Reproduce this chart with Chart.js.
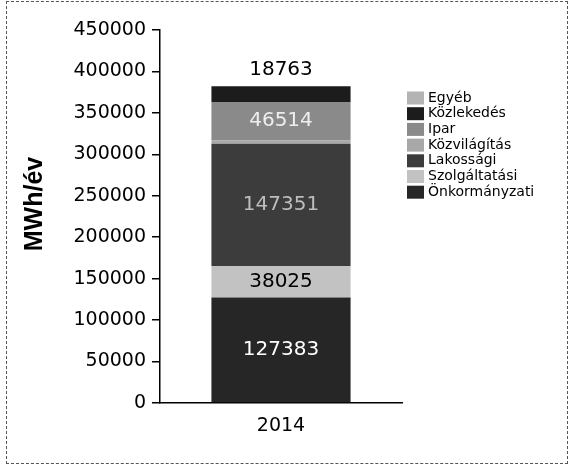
<!DOCTYPE html>
<html>
<head>
<meta charset="utf-8">
<script src="https://cdn.jsdelivr.net/npm/chart.js@4/dist/chart.umd.min.js"></script>
<style>
html,body{margin:0;padding:0;background:#fff;}
#wrap{position:relative;width:571px;height:467px;overflow:hidden;}
#c{position:absolute;left:0;top:0;}
#frame{position:absolute;left:6px;top:1px;width:560px;height:461px;border:1px dashed #555;pointer-events:none;}
</style>
</head>
<body>
<div id="wrap"><canvas id="c" width="571" height="467"></canvas><div id="frame"></div></div>
<script>
// ---- data ----
const categories = ['2014'];
const seriesNames = ['Önkormányzati', 'Szolgáltatási', 'Lakossági', 'Közvilágítás', 'Ipar', 'Közlekedés', 'Egyéb'];
const onkormanyzati = [127383];
const szolgaltatasi = [38025];
const lakossagi = [147351];
const kozvilagitas = [4000];
const ipar = [46514];
const kozlekedes = [18763];
const egyeb = [0];
const shownLabels = [true, true, true, false, true, true, false];
const yMin = 0, yMax = 450000, yStep = 50000;
const yTitle = 'MWh/év';

// ---- styles ----
const seriesValues = [onkormanyzati, szolgaltatasi, lakossagi, kozvilagitas, ipar, kozlekedes, egyeb];
const fillColors = ['#262626', '#c2c2c2', '#3c3c3c', '#a8a8a8', '#8a8a8a', '#1c1c1c', '#b4b4b4'];
const labelColors = ['#ffffff', '#000000', '#bdbdbd', '#000000', '#eeeeee', '#000000', '#000000'];

const datasets = seriesNames.map((n, i) => ({
  label: n,
  data: seriesValues[i],
  backgroundColor: fillColors[i],
  borderWidth: 0,
  barPercentage: 0.575,
  categoryPercentage: 1.0
}));

const valueLabels = {
  id: 'valueLabels',
  afterDatasetsDraw(chart) {
    const ctx = chart.ctx;
    ctx.save();
    ctx.font = '20px "DejaVu Sans"';
    ctx.textAlign = 'center';
    ctx.textBaseline = 'middle';
    const lastIdx = 5; // Közlekedés label sits above the bar
    let topY = Infinity;
    chart.data.datasets.forEach((ds, di) => {
      const meta = chart.getDatasetMeta(di);
      meta.data.forEach(el => { if (ds.data[0] > 0) topY = Math.min(topY, el.y); });
    });
    chart.data.datasets.forEach((ds, di) => {
      if (!shownLabels[di]) return;
      const meta = chart.getDatasetMeta(di);
      meta.data.forEach((el, j) => {
        const v = ds.data[j];
        let y = (el.y + el.base) / 2;
        if (di === lastIdx) y = topY - 17;
        ctx.fillStyle = labelColors[di];
        ctx.fillText(String(v), el.x, y);
      });
    });
    ctx.restore();
  }
};

const sideLegend = {
  id: 'sideLegend',
  afterDraw(chart) {
    const ctx = chart.ctx;
    ctx.save();
    ctx.font = '14px "DejaVu Sans"';
    ctx.textBaseline = 'middle';
    ctx.textAlign = 'left';
    const x0 = 407, y0 = 98, step = 15.7;
    for (let k = 0; k < seriesNames.length; k++) {
      const i = seriesNames.length - 1 - k;
      const yc = y0 + k * step;
      ctx.fillStyle = fillColors[i];
      ctx.fillRect(x0, yc - 6.5, 17, 13);
      ctx.fillStyle = '#000';
      ctx.fillText(seriesNames[i], x0 + 21, yc);
    }
    ctx.restore();
  }
};

const yTitlePlugin = {
  id: 'yTitlePlugin',
  afterDraw(chart) {
    const ctx = chart.ctx;
    ctx.save();
    ctx.translate(35, 204);
    ctx.rotate(-Math.PI / 2);
    ctx.font = 'bold 25px "Liberation Sans"';
    ctx.fillStyle = '#000';
    ctx.textAlign = 'center';
    ctx.textBaseline = 'middle';
    ctx.fillText(yTitle, 0, 0);
    ctx.restore();
  }
};

new Chart(document.getElementById('c'), {
  type: 'bar',
  data: { labels: categories, datasets },
  options: {
    responsive: false,
    animation: false,
    layout: { padding: { left: 0, right: 169, top: 30, bottom: 0 } },
    plugins: { legend: { display: false }, tooltip: { enabled: false } },
    scales: {
      x: {
        stacked: true,
        grid: { display: false, drawTicks: false },
        border: { display: true, color: '#000', width: 1.5 },
        ticks: { color: '#000', font: { family: 'DejaVu Sans', size: 19 }, padding: 12 },
        afterFit(s) { s.height = 64; }
      },
      y: {
        stacked: true,
        min: yMin, max: yMax,
        ticks: { stepSize: yStep, color: '#000', font: { family: 'DejaVu Sans', size: 19 }, padding: 6,
                 callback: (v) => String(v) },
        grid: { drawOnChartArea: false, drawTicks: true, tickLength: 8, color: '#000', lineWidth: 1.5 },
        border: { color: '#000', width: 1.5 },
        afterFit(s) { s.width = 160; }
      }
    }
  },
  plugins: [valueLabels, sideLegend, yTitlePlugin]
});
</script>
</body>
</html>
